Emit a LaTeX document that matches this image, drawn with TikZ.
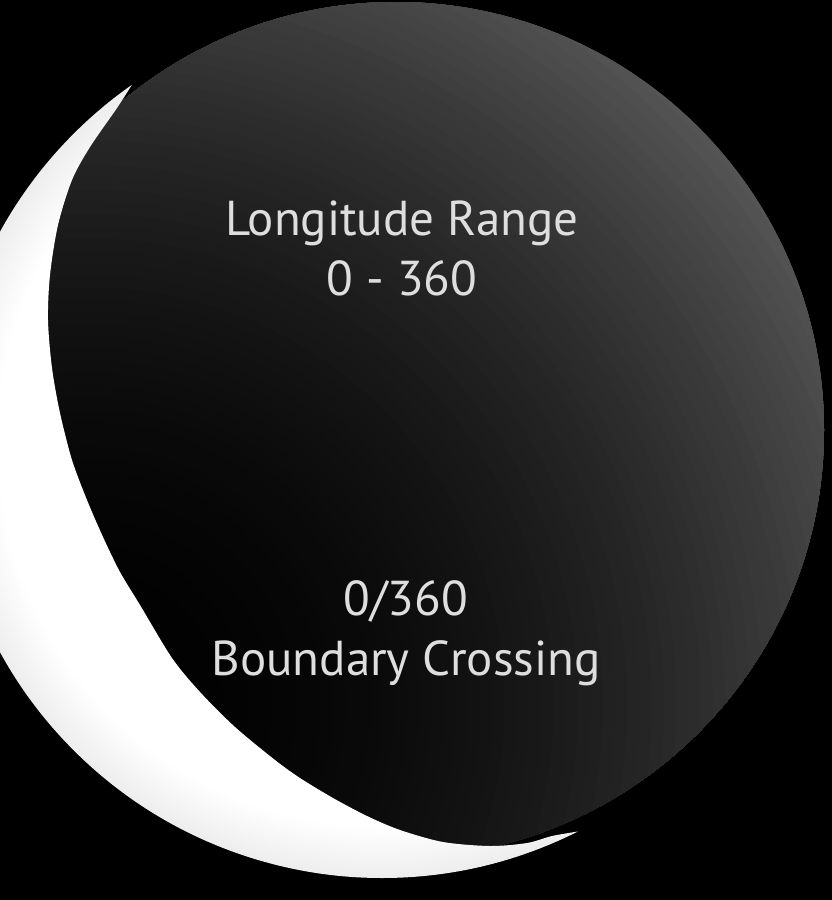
\documentclass[tikz,border=0pt]{standalone}
\usepackage{fontspec}
\setmainfont{PT Sans}
\definecolor{noteGray}{RGB}{222,222,222}
% lit crescent, a little grey at its outer edge
\pgfdeclareradialshading{crescentShade}{\pgfpoint{0bp}{0bp}}{%
  rgb(0bp)=(1,1,1); rgb(22bp)=(1,1,1); rgb(25bp)=(0.93,0.93,0.93); rgb(50bp)=(0.93,0.93,0.93)}

\begin{document}
\begin{tikzpicture}[x=1pt,y=-1pt,
    note/.style={align=center, text=noteGray, inner sep=0pt,
                 font=\fontsize{49}{60}\selectfont}
  ]
  \useasboundingbox (0,0) rectangle (832,900);
  \fill[black] (0,0) rectangle (832,900);
  \clip (0,0) rectangle (832,900);
  % the sphere, darkest towards the lower left
  \begin{scope}
    \clip (396,430) circle[radius=428];
    \foreach \k in {70,...,1} {
      \pgfmathsetmacro\shadeval{34*(\k/70)^2}
      \fill[white!\shadeval!black] (88,704) circle[radius=12.25*\k];
    }
  \end{scope}
  % the crescent on its left side
  \begin{scope}
    \clip (382,442) ++(63.3:436) arc[start angle=63.3, end angle=235, radius=436]
      -- plot[smooth] coordinates {(131.9,84.8) (117,108) (90,147) (72,180) (58,225)
         (50,275) (48,320) (52,368) (60,413) (72,460) (87,500) (103,537) (120,572)
         (140,605) (172,658) (200,692) (235,727) (275,760) (300,778) (333,798)
         (367,816) (400,830) (443,842) (490,846) (527,843) (552,836) (577.9,831.5)}
      -- cycle;
    \shade[shading=crescentShade] (382,442) circle[radius=436];
  \end{scope}
  \node[note] (rangelabel)    at (402,248) {Longitude Range\\0 - 360};
  \node[note] (crossinglabel) at (406,633) {0/360\\Boundary Crossing};
\end{tikzpicture}
\end{document}
